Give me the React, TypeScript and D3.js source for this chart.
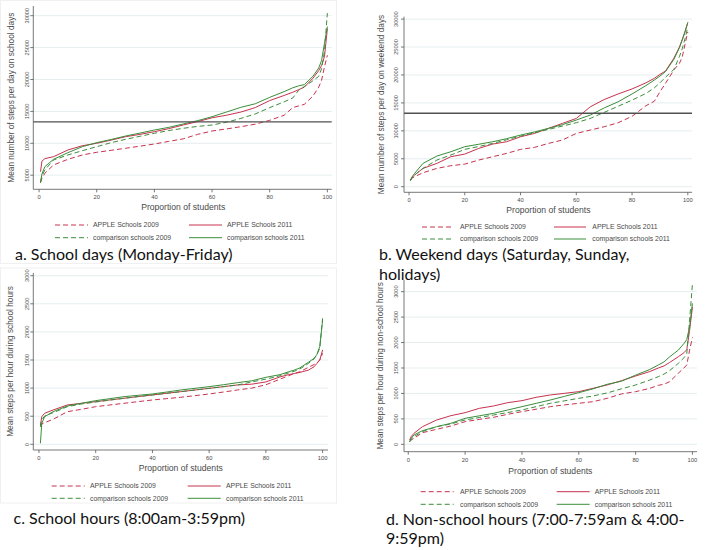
import React from "react";
import * as d3 from "d3";

// ---------- DATA ----------
const proportions = [0.5, 1, 2, 5, 10, 15, 20, 25, 30, 35, 40, 45, 50, 55, 60, 65, 70, 75, 80, 85, 88, 90, 92, 95, 97, 98, 99, 100];

const seriesNames = ["APPLE Schools 2009", "APPLE Schools 2011", "comparison schools 2009", "comparison schools 2011"];

// a. School days
const aApple2009 = [3830, 4500, 5300, 6600, 7490, 8170, 8590, 8900, 9220, 9550, 9890, 10300, 10700, 11400, 11930, 12250, 12600, 13000, 13600, 14400, 15600, 15850, 16100, 17400, 18800, 19900, 22000, 23800];
const aApple2011 = [5550, 7200, 7600, 7900, 8950, 9620, 10000, 10500, 11030, 11400, 11820, 12300, 12870, 13400, 14000, 14400, 14900, 15600, 16700, 17500, 18000, 18400, 18800, 20200, 21400, 22200, 23600, 28000];
const aComp2009 = [3980, 4900, 5810, 7380, 8170, 8840, 9470, 10100, 10620, 11100, 11570, 12000, 12350, 12650, 12870, 13300, 13900, 14600, 15600, 16500, 17100, 18300, 18900, 19800, 20500, 21700, 24500, 30400];
const aComp2011 = [3830, 5200, 6330, 7490, 8530, 9470, 10100, 10600, 11140, 11600, 12080, 12500, 13030, 13550, 14170, 14900, 15640, 16200, 17200, 18100, 18700, 19000, 19200, 20500, 21800, 23000, 25700, 28300];

// b. Weekend days
const bApple2009 = [1190, 1500, 1790, 2500, 3280, 3760, 4050, 4770, 5370, 5960, 6680, 7040, 7750, 8350, 9540, 10140, 10730, 11450, 12600, 14500, 15300, 17000, 18500, 20900, 22100, 23200, 25500, 27700];
const bApple2011 = [1190, 1600, 2090, 3280, 4170, 5370, 5840, 6860, 7630, 8050, 8940, 9540, 10440, 11330, 12220, 14300, 15600, 16600, 17500, 18600, 19400, 20100, 20700, 23000, 25000, 26300, 27700, 29400];
const bComp2009 = [1070, 1600, 2090, 3280, 4770, 5670, 6680, 7200, 7750, 8400, 9060, 9650, 10260, 10850, 11450, 12220, 13300, 14400, 15500, 16700, 17700, 18600, 19600, 21000, 23300, 24700, 26500, 28600];
const bComp2011 = [1070, 1700, 2390, 4170, 5490, 6260, 7160, 7600, 8050, 8600, 9240, 9800, 10440, 11100, 11930, 12820, 14100, 15200, 16600, 18100, 19100, 19800, 20600, 22800, 24900, 26300, 27800, 29400];

// c. School hours
const cApple2009 = [314, 362, 386, 445, 581, 623, 670, 700, 730, 760, 789, 813, 837, 866, 896, 930, 967, 1000, 1060, 1160, 1220, 1260, 1292, 1370, 1420, 1450, 1500, 1620];
const cApple2011 = [344, 492, 552, 611, 700, 730, 759, 790, 819, 850, 878, 908, 937, 966, 996, 1026, 1056, 1070, 1110, 1200, 1240, 1260, 1280, 1320, 1380, 1440, 1500, 1680];
const cComp2009 = [314, 433, 504, 563, 670, 718, 753, 786, 819, 849, 878, 908, 937, 966, 996, 1026, 1056, 1110, 1160, 1220, 1270, 1300, 1340, 1440, 1520, 1600, 1708, 2242];
const cComp2011 = [18, 374, 492, 581, 682, 730, 777, 812, 848, 872, 896, 930, 967, 996, 1026, 1060, 1097, 1130, 1192, 1240, 1290, 1320, 1360, 1460, 1530, 1600, 1740, 2212];

// d. Non-school hours
const dApple2009 = [52, 85, 118, 229, 295, 360, 445, 490, 531, 590, 642, 690, 740, 775, 806, 838, 904, 990, 1035, 1100, 1160, 1180, 1231, 1396, 1500, 1560, 1850, 2100];
const dApple2011 = [85, 150, 216, 347, 478, 563, 622, 707, 753, 819, 858, 924, 970, 1002, 1035, 1100, 1166, 1250, 1343, 1430, 1500, 1540, 1610, 1720, 1800, 1860, 2240, 2700];
const dComp2009 = [52, 100, 151, 249, 347, 400, 478, 527, 576, 625, 675, 740, 806, 855, 904, 950, 1010, 1090, 1166, 1264, 1330, 1380, 1450, 1590, 1700, 1780, 2440, 3160];
const dComp2011 = [52, 120, 183, 269, 347, 413, 511, 560, 609, 675, 740, 805, 871, 943, 1015, 1090, 1180, 1240, 1360, 1470, 1560, 1620, 1720, 1850, 1980, 2060, 2310, 2770];

const xTicks = [0, 20, 40, 60, 80, 100];
const stepTicks = [5000, 10000, 15000, 20000, 25000, 30000];
const stepTicksB = [0, 5000, 10000, 15000, 20000, 25000, 30000];
const hourTicks = [0, 500, 1000, 1500, 2000, 2500, 3000];
const referenceA = 13350;
const referenceB = 13150;

// ---------- STYLE / LAYOUT ----------
const RED = "#c8324f";
const GREEN = "#3b8e3b";
const GRID = "#e6eef0";
const AXIS = "#555";
const TXT = "#4a4a4a";
const FONT = "'Liberation Sans', Arial, sans-serif";
const CAP_FONT = "Lato, 'Open Sans', sans-serif";

type Panel = {
  key: string;
  values: number[][];
  left: number; right: number; top: number; bottom: number;
  xDomain: [number, number]; yDomain: [number, number];
  yTicks: number[];
  yTitle: string; yTitleX: number; yTickX: number;
  xLabelY: number; xTitleY: number;
  reference?: number;
  legendY: [number, number];
  legendCols: [number, number, number, number];
  sampleLen: number;
  caption: string[]; captionX: number; captionY: number; captionGap: number;
};

const panels: Panel[] = [
  {
    key: "a", values: [aApple2009, aApple2011, aComp2009, aComp2011],
    left: 33.3, right: 331.7, top: 6, bottom: 189.3,
    xDomain: [-2, 101.5], yDomain: [2790, 31520], yTicks: stepTicks,
    yTitle: "Mean number of steps per day on school days", yTitleX: 11, yTickX: 28.5,
    xLabelY: 196.7, xTitleY: 206.8, reference: referenceA,
    legendY: [225, 237.7], legendCols: [55, 93, 189, 227], sampleLen: 33,
    caption: ["a. School days (Monday-Friday)"], captionX: 15, captionY: 259.5, captionGap: 20,
  },
  {
    key: "b", values: [bApple2009, bApple2011, bComp2009, bComp2011],
    left: 404, right: 692, top: 16.7, bottom: 192.3,
    xDomain: [-1.8, 101.5], yDomain: [-1000, 30430], yTicks: stepTicksB,
    yTitle: "Mean number of steps per day on weekend days", yTitleX: 381, yTickX: 397.5,
    xLabelY: 200, xTitleY: 209.5, reference: referenceB,
    legendY: [227, 239], legendCols: [422, 460, 554, 592.3], sampleLen: 32,
    caption: ["b. Weekend days (Saturday, Sunday,", "holidays)"], captionX: 379, captionY: 259.5, captionGap: 20,
  },
  {
    key: "c", values: [cApple2009, cApple2011, cComp2009, cComp2011],
    left: 33.3, right: 328, top: 272.9, bottom: 450,
    xDomain: [-2, 101.9], yDomain: [-101, 3050], yTicks: hourTicks,
    yTitle: "Mean steps per hour during school hours", yTitleX: 10, yTickX: 28.5,
    xLabelY: 458.3, xTitleY: 467.8,
    legendY: [486, 498.3], legendCols: [51.7, 90, 187.7, 226], sampleLen: 33,
    caption: ["c. School hours (8:00am-3:59pm)"], captionX: 13.5, captionY: 524, captionGap: 20,
  },
  {
    key: "d", values: [dApple2009, dApple2011, dComp2009, dComp2011],
    left: 404, right: 697, top: 280, bottom: 451.7,
    xDomain: [-1.5, 101.6], yDomain: [-145, 3229], yTicks: hourTicks,
    yTitle: "Mean steps per hour during non-school hours", yTitleX: 380.5, yTickX: 397.5,
    xLabelY: 460, xTitleY: 471,
    legendY: [491.7, 504.3], legendCols: [420.7, 460, 556.7, 594.7], sampleLen: 33,
    caption: ["d. Non-school hours (7:00-7:59am & 4:00-", "9:59pm)"], captionX: 386, captionY: 525, captionGap: 18.5,
  },
];

const seriesColor = [RED, RED, GREEN, GREEN];
const seriesDash = ["5,3", undefined, "5,3", undefined];

function PanelView({ p }: { p: Panel }) {
  const x = d3.scaleLinear().domain(p.xDomain).range([p.left, p.right]);
  const y = d3.scaleLinear().domain(p.yDomain).range([p.bottom, p.top]);
  const line = d3
    .line<number>()
    .x((_, i) => x(proportions[i]))
    .y((v) => y(v));
  const fmt = d3.format("d");
  const midY = (p.top + p.bottom) / 2;
  const midX = (x(0) + x(100)) / 2;
  const legendOrder = [
    { s: 0, row: 0, col: 0 },
    { s: 1, row: 0, col: 1 },
    { s: 2, row: 1, col: 0 },
    { s: 3, row: 1, col: 1 },
  ];
  return (
    <g>
      {p.yTicks.map((t) => (
        <line key={"g" + t} x1={p.left} x2={p.right} y1={y(t)} y2={y(t)} stroke={GRID} strokeWidth={1} />
      ))}
      {p.values.map((vals, i) => (
        <path
          key={"s" + i}
          d={line(vals) || ""}
          fill="none"
          stroke={seriesColor[i]}
          strokeWidth={1}
          strokeDasharray={seriesDash[i]}
        />
      ))}
      {p.reference !== undefined && (
        <line x1={p.left} x2={p.right} y1={y(p.reference)} y2={y(p.reference)} stroke="#505050" strokeWidth={1.3} />
      )}
      <line x1={p.left} x2={p.left} y1={p.top} y2={p.bottom} stroke={AXIS} strokeWidth={0.8} />
      <line x1={p.left} x2={p.right} y1={p.bottom} y2={p.bottom} stroke={AXIS} strokeWidth={0.8} />
      {p.yTicks.map((t) => (
        <g key={"yt" + t}>
          <line x1={p.left - 3} x2={p.left} y1={y(t)} y2={y(t)} stroke={AXIS} strokeWidth={0.8} />
          <text
            transform={`translate(${p.yTickX},${y(t)}) rotate(-90)`}
            textAnchor="middle"
            fontFamily={FONT}
            fontSize={5.6}
            fill={TXT}
          >
            {fmt(t)}
          </text>
        </g>
      ))}
      {xTicks.map((t) => (
        <g key={"xt" + t}>
          <line x1={x(t)} x2={x(t)} y1={p.bottom} y2={p.bottom + 3} stroke={AXIS} strokeWidth={0.8} />
          <text x={x(t)} y={p.xLabelY} dy="0.35em" textAnchor="middle" fontFamily={FONT} fontSize={5.8} fill={TXT}>
            {t}
          </text>
        </g>
      ))}
      <text x={midX} y={p.xTitleY} dy="0.35em" textAnchor="middle" fontFamily={FONT} fontSize={8.6} fill={TXT}>
        Proportion of students
      </text>
      <text
        transform={`translate(${p.yTitleX},${midY}) rotate(-90)`}
        dy="0.35em"
        textAnchor="middle"
        fontFamily={FONT}
        fontSize={8.3}
        fill={TXT}
      >
        {p.yTitle}
      </text>
      {legendOrder.map(({ s, row, col }) => {
        const sx = p.legendCols[col * 2];
        const tx = p.legendCols[col * 2 + 1];
        const ly = p.legendY[row];
        return (
          <g key={"lg" + s}>
            <line x1={sx} x2={sx + p.sampleLen} y1={ly} y2={ly} stroke={seriesColor[s]} strokeWidth={1} strokeDasharray={seriesDash[s]} />
            <text x={tx} y={ly} dy="0.35em" fontFamily={FONT} fontSize={6.9} fill={TXT}>
              {seriesNames[s]}
            </text>
          </g>
        );
      })}
      {p.caption.map((c, i) => (
        <text key={"c" + i} x={p.captionX} y={p.captionY + i * p.captionGap} fontFamily={CAP_FONT} fontSize={16} fill="#111">
          {c}
        </text>
      ))}
    </g>
  );
}

export default function App() {
  return (
    <svg
      width={708}
      height={550}
      viewBox="0 0 708 550"
      style={{ position: "absolute", left: 0, top: 0, background: "#fff" }}
    >
      <rect x={0} y={0} width={708} height={550} fill="#fff" />
      <rect x={0.5} y={0.5} width={336} height={263} fill="none" stroke="#f0f0f0" />
      <rect x={0.5} y={268} width={336} height={235} fill="none" stroke="#f0f0f0" />
      {panels.map((p) => (
        <PanelView key={p.key} p={p} />
      ))}
    </svg>
  );
}
